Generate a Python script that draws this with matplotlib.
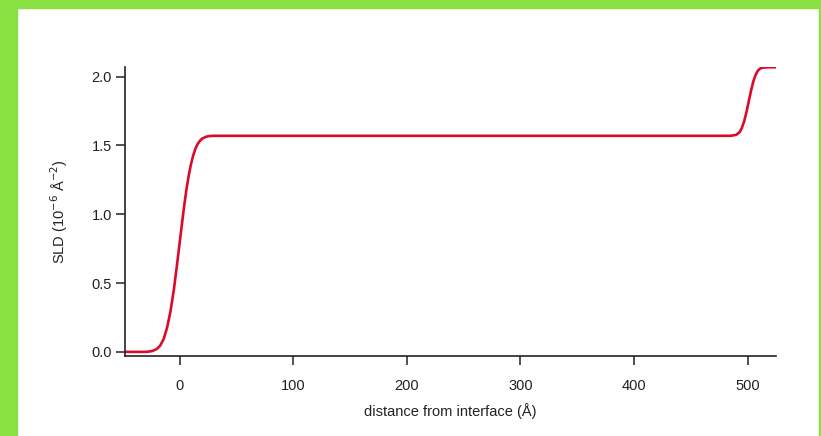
import matplotlib
matplotlib.use('Agg')
import matplotlib.pyplot as plt
from matplotlib.patches import Rectangle

# SLD profile
distance = [-48, -40, -32, -28, -24, -20, -17, -14, -11, -8, -5, -2, 0, 2, 4, 6, 8, 10,
            12, 14, 16, 18, 20, 23, 26, 30, 40, 100, 200, 300, 400, 485, 490, 493, 495,
            497, 499, 501, 503, 505, 507, 509, 511, 514, 518, 525]
sld = [0.0, 0.0, 0.0, 0.001, 0.006, 0.021, 0.046, 0.093, 0.174, 0.293, 0.452, 0.648,
       0.785, 0.922, 1.055, 1.176, 1.277, 1.361, 1.426, 1.477, 1.511, 1.534, 1.550,
       1.562, 1.568, 1.57, 1.57, 1.57, 1.57, 1.57, 1.57, 1.570, 1.577, 1.597, 1.628,
       1.676, 1.742, 1.820, 1.897, 1.964, 2.012, 2.043, 2.059, 2.066, 2.068, 2.068]

x_ticks = [0, 100, 200, 300, 400, 500]
y_ticks = [0.0, 0.5, 1.0, 1.5, 2.0]

plt.rcParams['font.family'] = ['Liberation Sans', 'DejaVu Sans']

fig = plt.figure(figsize=(8.21, 4.36), dpi=100)
ax = fig.add_axes([125 / 821, 1 - 356 / 436, (776 - 125) / 821, (356 - 67) / 436])

ax.plot(distance, sld, color='#dc0a28', linewidth=1.9, solid_capstyle='butt')

ax.set_xlim(-48, 525)
ax.set_ylim(-0.03, 2.07)
ax.set_xticks(x_ticks)
ax.set_yticks(y_ticks)
ax.set_yticklabels(['%.1f' % v for v in y_ticks])

for s in ['top', 'right']:
    ax.spines[s].set_visible(False)
for s in ['left', 'bottom']:
    ax.spines[s].set_linewidth(1.2)
    ax.spines[s].set_color('#222222')
ax.tick_params(direction='out', length=6.5, width=1.1, labelsize=10.5,
               colors='#222222')
ax.tick_params(axis='y', pad=3)
ax.tick_params(axis='x', pad=10)

ax.set_xlabel('distance from interface (Å)', fontsize=10.5, color='#222222', labelpad=7)
ax.set_ylabel('SLD (10$^{-6}$ Å$^{-2}$)', fontsize=10.5, color='#222222', labelpad=15)

# green frame around the picture
green = '#89e041'
fig.add_artist(Rectangle((0, 0), 17 / 821, 1, transform=fig.transFigure, color=green, zorder=0))
fig.add_artist(Rectangle((0, 1 - 8 / 436), 1, 8 / 436, transform=fig.transFigure, color=green, zorder=0))
fig.add_artist(Rectangle((819 / 821, 0), 2 / 821, 1, transform=fig.transFigure, color=green, zorder=0))

plt.savefig('out.png', dpi=100)
